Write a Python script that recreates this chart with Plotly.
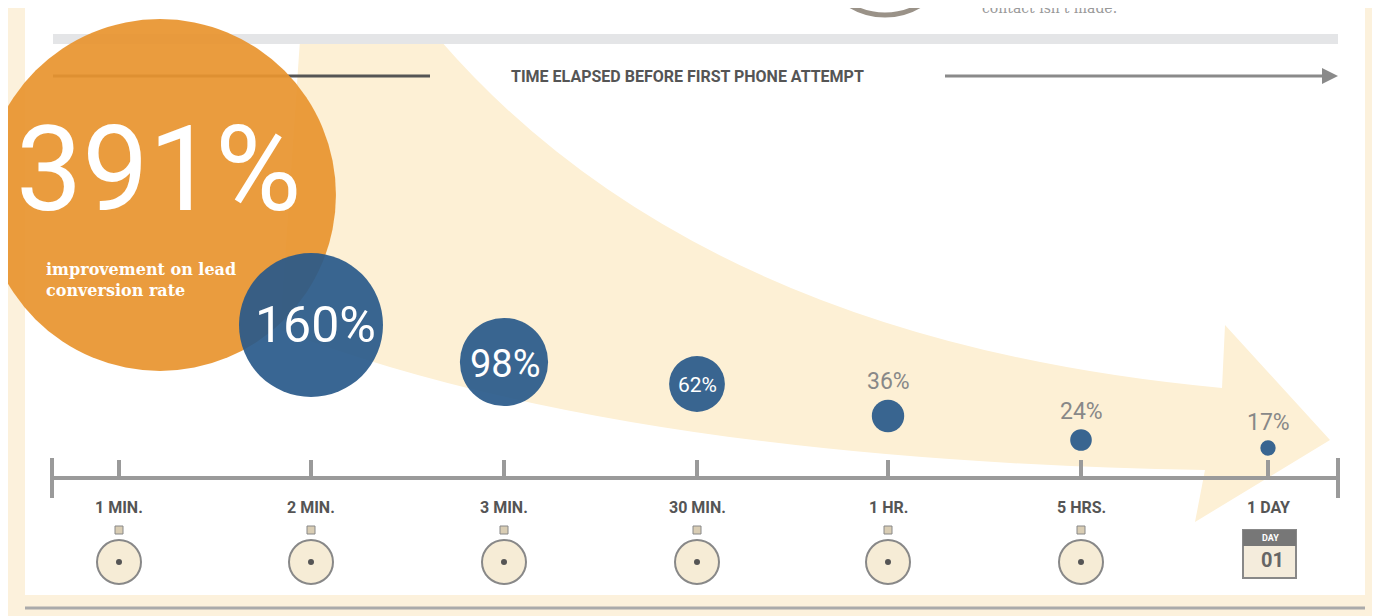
import plotly.graph_objects as go

categories = ["1 MIN.", "2 MIN.", "3 MIN.", "30 MIN.", "1 HR.", "5 HRS.", "1 DAY"]
values = [391, 160, 98, 62, 36, 24, 17]
labels = ["391%", "160%", "98%", "62%", "36%", "24%", "17%"]

# layout (pixel coordinates)
tick_x = [119, 311, 504, 697, 888, 1081, 1268]
circle_y = [195, 325, 362, 384, 416, 440, 448]
axis_y = 478

fig = go.Figure()
shapes = []

# cream border + white panel
shapes.append(dict(type="rect", x0=-20, x1=1400, y0=-20, y1=640, fillcolor="#fcf1dc", line_width=0, layer="below"))
shapes.append(dict(type="rect", x0=25, x1=1365, y0=-20, y1=595, fillcolor="white", line_width=0, layer="below"))
shapes.append(dict(type="line", x0=25, x1=1365, y0=608, y1=608, line=dict(color="#aaaaaa", width=3)))

# top decoration
shapes.append(dict(type="circle", x0=820, x1=950, y0=-110, y1=15, line=dict(color="#9a9288", width=5), fillcolor="white"))
shapes.append(dict(type="rect", x0=53, x1=1338, y0=34, y1=44, fillcolor="#e4e5e7", line_width=0))

# curved cream arrow
shapes.append(dict(type="path", layer="below",
                   path="M 300,40 L 440,40 Q 700,340 1222,388 L 1225,325 L 1330,440 L 1195,522 "
                        "L 1205,470 Q 620,460 280,330 Z",
                   fillcolor="#fdf0d5", line_width=0))

# time arrow
shapes.append(dict(type="line", x0=53, x1=430, y0=76, y1=76, line=dict(color="#555555", width=3)))
shapes.append(dict(type="line", x0=945, x1=1325, y0=76, y1=76, line=dict(color="#8a8a8a", width=3)))
shapes.append(dict(type="path", path="M 1322,68 L 1338,76 L 1322,84 Z", fillcolor="#8a8a8a", line_width=0))

# axis
shapes.append(dict(type="line", x0=52, x1=1338, y0=axis_y, y1=axis_y, line=dict(color="#9a9a9a", width=4)))
for x in [52, 1338]:
    shapes.append(dict(type="line", x0=x, x1=x, y0=458, y1=498, line=dict(color="#9a9a9a", width=4)))
for x in tick_x:
    shapes.append(dict(type="line", x0=x, x1=x, y0=460, y1=478, line=dict(color="#9a9a9a", width=4)))

# bubbles
colors = ["#e8942f"] + ["#28598a"] * 6
for i, (v, y) in enumerate(zip(values, circle_y)):
    r = 0.45 * v
    cx = 160 if i == 0 else tick_x[i]
    shapes.append(dict(type="circle", x0=cx - r, x1=cx + r, y0=y - r, y1=y + r,
                       fillcolor=colors[i], opacity=0.93 if i == 0 else 0.92, line_width=0))

# stopwatches / calendar
for i, x in enumerate(tick_x):
    if i < 6:
        shapes.append(dict(type="rect", x0=x - 4, x1=x + 4, y0=526, y1=534, fillcolor="#d9cdb4", line=dict(color="#888", width=1)))
        shapes.append(dict(type="circle", x0=x - 22, x1=x + 22, y0=540, y1=584, fillcolor="#f6ecd6", line=dict(color="#888", width=2)))
        shapes.append(dict(type="circle", x0=x - 3, x1=x + 3, y0=559, y1=565, fillcolor="#555", line_width=0))
    else:
        shapes.append(dict(type="rect", x0=x - 25, x1=x + 28, y0=530, y1=578, fillcolor="#f4ecdc", line=dict(color="#888", width=2)))
        shapes.append(dict(type="rect", x0=x - 25, x1=x + 28, y0=530, y1=546, fillcolor="#777", line_width=0))

anns = []
for i, (x, lab) in enumerate(zip(tick_x, categories)):
    anns.append(dict(x=x, y=507, text="<b>" + lab + "</b>", font=dict(family="Roboto", size=16, color="#555")))
    if i == 6:
        anns.append(dict(x=x + 2, y=538, text="<b>DAY</b>", font=dict(family="Roboto", size=9, color="white")))
        anns.append(dict(x=x + 4, y=560, text="<b>01</b>", font=dict(family="Roboto", size=20, color="#666")))

narrow = "Roboto"
anns.append(dict(x=158, y=170, text="391%", font=dict(family=narrow, size=118, color="white")))
anns.append(dict(x=315, y=325, text="160%", font=dict(family=narrow, size=50, color="white")))
anns.append(dict(x=505, y=364, text="98%", font=dict(family=narrow, size=38, color="white")))
anns.append(dict(x=697, y=385, text="62%", font=dict(family=narrow, size=21, color="white")))
for i in [4, 5, 6]:
    anns.append(dict(x=tick_x[i], y=circle_y[i] - 0.45 * values[i] - 18, text=labels[i],
                     font=dict(family=narrow, size=23, color="#888")))
anns.append(dict(x=44, y=280, xanchor="left", align="left",
                 text="<b>improvement on lead<br>conversion rate</b>",
                 font=dict(family="DejaVu Serif", size=16, color="white")))
anns.append(dict(x=687, y=76, text="<b>TIME ELAPSED BEFORE FIRST PHONE ATTEMPT</b>",
                 font=dict(family="Roboto", size=16, color="#555")))
anns.append(dict(x=980, y=8, xanchor="left", text="contact isn't made.",
                 font=dict(family="DejaVu Serif", size=14, color="#999")))
for a in anns:
    a.update(xref="x", yref="y", showarrow=False)

# ranges offset by 8px to counter the page margin
fig.update_layout(width=1380, height=616, margin=dict(l=0, r=0, t=0, b=0),
                  plot_bgcolor="white", paper_bgcolor="#fcf1dc",
                  xaxis=dict(range=[8, 1388], visible=False, fixedrange=True),
                  yaxis=dict(range=[624, 8], visible=False, fixedrange=True),
                  shapes=shapes, annotations=anns, showlegend=False)
fig.write_html("out.html")
